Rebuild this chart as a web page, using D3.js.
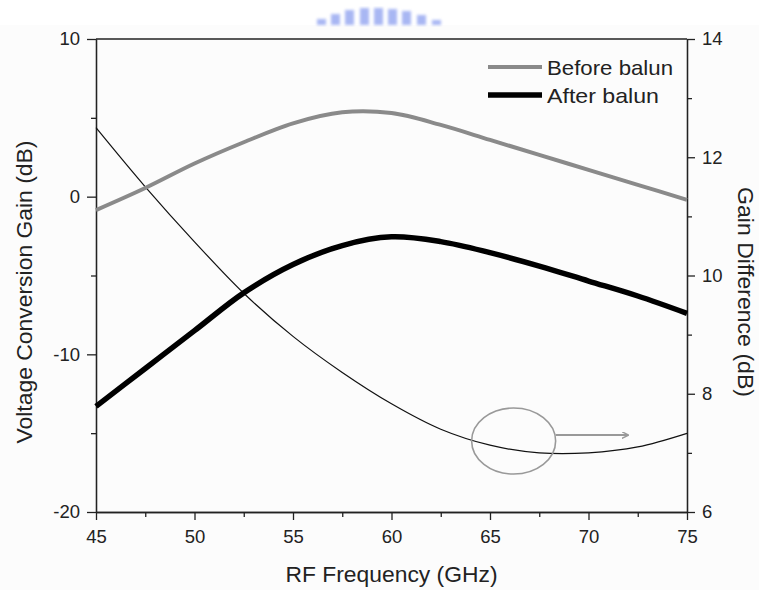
<!DOCTYPE html>
<html>
<head>
<meta charset="utf-8">
<script src="https://cdn.jsdelivr.net/npm/d3@7"></script>
<style>
  body { margin: 0; background: #fff; }
  text { font-family: "Liberation Sans", Arial, sans-serif; fill: #222; }
</style>
</head>
<body>
<script>
var w = 759;
var h = 590;
var margin = {top: 39, right: 72, bottom: 78, left: 96};

// RF frequency (GHz)
var freq = [45, 47.5, 50, 52.5, 55, 57.5, 60, 62.5, 65, 67.5, 70, 72.5, 75];
// voltage conversion gain (dB), left axis
var beforeBalun = [-0.85, 0.55, 2.1, 3.45, 4.65, 5.35, 5.3, 4.55, 3.6, 2.65, 1.7, 0.75, -0.2];
var afterBalun = [-13.3, -10.9, -8.5, -6.1, -4.3, -3.1, -2.55, -2.85, -3.55, -4.4, -5.35, -6.3, -7.4];
// gain difference (dB), right axis
var gainDiff = [12.5, 11.5, 10.57, 9.7, 8.97, 8.36, 7.83, 7.4, 7.13, 7.0, 7.0, 7.1, 7.33];

var xTicks = [45, 50, 55, 60, 65, 70, 75];
var yTicks = [-20, -10, 0, 10];
var y2Ticks = [6, 8, 10, 12, 14];
var seriesNames = ["Before balun", "After balun"];

var xScale = d3.scaleLinear()
    .domain([45, 75])
    .range([margin.left, w - margin.right - 0]);

var yScale = d3.scaleLinear()
    .domain([-20, 10])
    .range([h - margin.bottom, margin.top]);

var y2Scale = d3.scaleLinear()
    .domain([6, 14])
    .range([h - margin.bottom, margin.top]);

var svg = d3.select("body")
    .append("svg")
    .attr("width", w)
    .attr("height", h);

svg.append("rect")
    .attr("x", 0).attr("y", 25)
    .attr("width", w).attr("height", h - 25)
    .attr("fill", "#fcfcfc");

// faint watermark at the top
var defs = svg.append("defs");
defs.append("filter").attr("id", "blur")
    .append("feGaussianBlur").attr("stdDeviation", 1.6);
var wm = [[322, 19], [336, 14], [350, 10], [365, 8], [379, 8], [393, 9], [407, 11], [422, 15], [437, 20]];
svg.append("g")
    .attr("filter", "url(#blur)")
    .attr("opacity", 0.75)
    .selectAll("rect")
    .data(wm)
    .enter()
    .append("rect")
    .attr("x", function(d) { return d[0] - 5; })
    .attr("y", function(d) { return d[1]; })
    .attr("width", 9)
    .attr("height", function(d) { return 25 - d[1]; })
    .attr("fill", "#8c9ff0");

var x0 = xScale(45), x1 = xScale(75), yTop = yScale(10), yBot = yScale(-20);

// frame top line
svg.append("line")
    .attr("x1", x0).attr("x2", x1)
    .attr("y1", yTop).attr("y2", yTop)
    .attr("stroke", "#222").attr("stroke-width", 1.3);

function styleAxis(g) {
    g.selectAll("path").attr("stroke", "#222").attr("stroke-width", 1.3);
    g.selectAll("line").attr("stroke", "#222").attr("stroke-width", 1.3);
    g.selectAll("text")
        .style("font-family", "'Liberation Sans', Arial, sans-serif")
        .style("font-size", "18.5px")
        .attr("fill", "#222");
}

function minorTicks(lo, hi, step) {
    var out = [];
    for (var v = lo + step / 2; v < hi; v += step) out.push(v);
    return out;
}

var plain = function(d) { return String(d); };

// x axis
var xAxis = d3.axisBottom(xScale).tickValues(xTicks).tickFormat(plain).tickSize(8).tickPadding(10).tickSizeOuter(0);
svg.append("g")
    .attr("transform", "translate(0," + yBot + ")")
    .call(xAxis)
    .call(styleAxis);
svg.append("g")
    .attr("transform", "translate(0," + yBot + ")")
    .call(d3.axisBottom(xScale).tickValues(minorTicks(45, 75, 5)).tickSize(5).tickFormat("").tickSizeOuter(0))
    .call(styleAxis);

// left axis
var yAxis = d3.axisLeft(yScale).tickValues(yTicks).tickFormat(plain).tickSize(9).tickPadding(7).tickSizeOuter(0);
svg.append("g")
    .attr("transform", "translate(" + x0 + ",0)")
    .call(yAxis)
    .call(styleAxis);
svg.append("g")
    .attr("transform", "translate(" + x0 + ",0)")
    .call(d3.axisLeft(yScale).tickValues(minorTicks(-20, 10, 10)).tickSize(5).tickFormat("").tickSizeOuter(0))
    .call(styleAxis);

// right axis
var y2Axis = d3.axisRight(y2Scale).tickValues(y2Ticks).tickFormat(plain).tickSize(8).tickPadding(7).tickSizeOuter(0);
svg.append("g")
    .attr("transform", "translate(" + x1 + ",0)")
    .call(y2Axis)
    .call(styleAxis);
svg.append("g")
    .attr("transform", "translate(" + x1 + ",0)")
    .call(d3.axisRight(y2Scale).tickValues(minorTicks(6, 14, 2)).tickSize(5).tickFormat("").tickSizeOuter(0))
    .call(styleAxis);

// axis titles
svg.append("text")
    .attr("x", (x0 + x1) / 2)
    .attr("y", 582)
    .attr("text-anchor", "middle")
    .style("font-size", "22px")
    .attr("textLength", 212)
    .attr("lengthAdjust", "spacingAndGlyphs")
    .text("RF Frequency (GHz)");

svg.append("text")
    .attr("transform", "translate(32," + 292 + ") rotate(-90)")
    .attr("text-anchor", "middle")
    .style("font-size", "22px")
    .attr("textLength", 303)
    .attr("lengthAdjust", "spacingAndGlyphs")
    .text("Voltage Conversion Gain (dB)");

svg.append("text")
    .attr("transform", "translate(738," + 292 + ") rotate(90)")
    .attr("text-anchor", "middle")
    .style("font-size", "21.5px")
    .attr("textLength", 210)
    .attr("lengthAdjust", "spacingAndGlyphs")
    .text("Gain Difference (dB)");

// lines
var line = d3.line()
    .x(function(d) { return xScale(d[0]); })
    .y(function(d) { return yScale(d[1]); })
    .curve(d3.curveCatmullRom.alpha(0.5));

var line2 = d3.line()
    .x(function(d) { return xScale(d[0]); })
    .y(function(d) { return y2Scale(d[1]); })
    .curve(d3.curveCatmullRom.alpha(0.5));

svg.append("path")
    .datum(d3.zip(freq, gainDiff))
    .attr("d", line2)
    .attr("fill", "none")
    .attr("stroke", "#111")
    .attr("stroke-width", 1.2);

svg.append("path")
    .datum(d3.zip(freq, beforeBalun))
    .attr("d", line)
    .attr("fill", "none")
    .attr("stroke", "#8a8a8a")
    .attr("stroke-width", 4);

svg.append("path")
    .datum(d3.zip(freq, afterBalun))
    .attr("d", line)
    .attr("fill", "none")
    .attr("stroke", "#000")
    .attr("stroke-width", 5.5);

// annotation: circle with arrow pointing to right axis
var cx = xScale(66.2), cy = y2Scale(7.2);
svg.append("ellipse")
    .attr("cx", cx).attr("cy", cy)
    .attr("rx", 42).attr("ry", 33)
    .attr("fill", "none")
    .attr("stroke", "#999")
    .attr("stroke-width", 1.6);

defs.append("marker")
    .attr("id", "arrow")
    .attr("viewBox", "0 0 10 10")
    .attr("refX", 9).attr("refY", 5)
    .attr("markerWidth", 7).attr("markerHeight", 7)
    .attr("markerUnits", "userSpaceOnUse")
    .attr("orient", "auto")
    .append("path")
    .attr("d", "M0,0 L10,5 L0,10")
    .attr("fill", "none")
    .attr("stroke", "#999")
    .attr("stroke-width", 2);

svg.append("line")
    .attr("x1", cx + 42).attr("y1", cy - 6)
    .attr("x2", xScale(72)).attr("y2", cy - 6)
    .attr("stroke", "#999")
    .attr("stroke-width", 2)
    .attr("marker-end", "url(#arrow)");

// legend
var legend = svg.append("g");
var legendStyles = [{color: "#8a8a8a", width: 4}, {color: "#000", width: 5.5}];
var legendLen = [126, 112];
seriesNames.forEach(function(name, i) {
    var ly = 67 + i * 28;
    legend.append("line")
        .attr("x1", 488).attr("x2", 542)
        .attr("y1", ly).attr("y2", ly)
        .attr("stroke", legendStyles[i].color)
        .attr("stroke-width", legendStyles[i].width);
    legend.append("text")
        .attr("x", 547)
        .attr("y", ly + 7.5)
        .style("font-size", "21px")
        .attr("textLength", legendLen[i])
        .attr("lengthAdjust", "spacingAndGlyphs")
        .text(name);
});
</script>
</body>
</html>
